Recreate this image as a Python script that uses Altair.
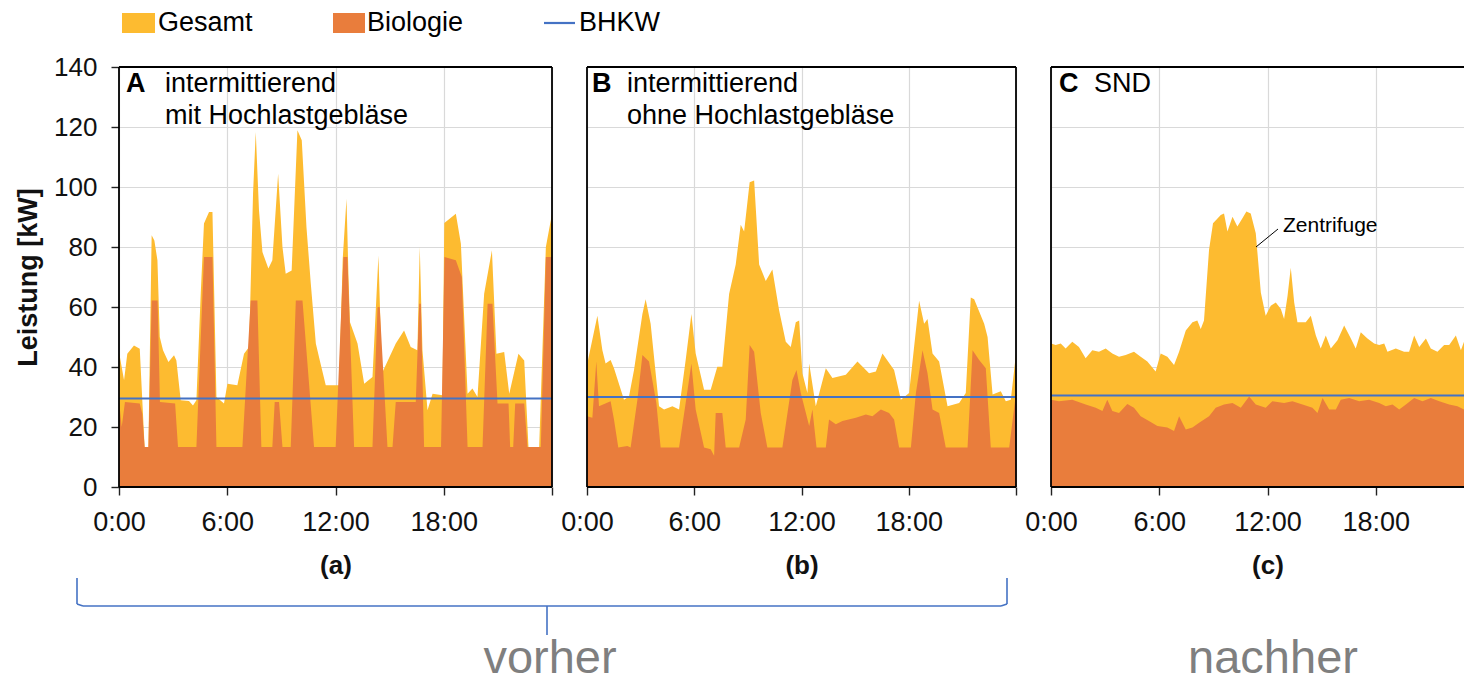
import altair as alt
import pandas as pd

# ---------------- data ----------------
HOUR_TICKS = [0, 6, 12, 18, 24]
KW_TICKS = [0, 20, 40, 60, 80, 100, 120, 140]
LEGEND_LABELS = ["Gesamt", "Biologie", "BHKW"]
PANEL_LETTERS = ["A", "B", "C"]
PANEL_TEXTS = ["intermittierend\nmit Hochlastgebläse", "intermittierend\nohne Hochlastgebläse", "SND"]
PANEL_CAPTIONS = ["(a)", "(b)", "(c)"]
GROUP_LABELS = ["vorher", "nachher"]
ANNOTATION = "Zentrifuge"
Y_TITLE = "Leistung [kW]"
BHKW = [29.5, 30.0, 30.5]

# Panel A (intermittierend mit Hochlastgebläse)
A_GES_T = [0.00, 0.28, 0.46, 0.83, 1.15, 1.42, 1.63, 1.81, 1.96, 2.13, 2.26, 2.44, 2.74, 3.05, 3.18,
           3.42, 3.88, 4.10, 4.29, 4.53, 4.71, 4.99, 5.18, 5.40, 5.82, 6.01, 6.56, 6.93, 7.21, 7.43,
           7.58, 7.76, 7.95, 8.28, 8.50, 8.82, 9.06, 9.24, 9.57, 9.89, 10.13, 10.39, 10.63, 10.91,
           11.13, 11.46, 12.20, 12.40, 12.61, 12.72, 12.80, 13.22, 13.59, 14.05, 14.38, 14.57, 15.34,
           15.80, 16.17, 16.54, 16.67, 16.82, 17.10, 17.38, 17.93, 18.03, 18.67, 18.95, 19.32, 19.59,
           19.87, 20.24, 20.67, 20.92, 21.35, 21.63, 22.14, 22.46, 22.70, 23.29, 23.66, 24.00]
A_GES_V = [45.0, 35.6, 44.4, 47.2, 46.1, 13.3, 13.3, 83.9, 82.2, 75.6, 50.0, 45.6, 41.7, 43.9, 42.2,
           28.9, 28.7, 27.2, 28.9, 64.4, 87.8, 91.7, 91.7, 30.0, 27.8, 34.4, 33.9, 44.4, 46.7, 97.8,
           118.3, 92.2, 78.3, 72.8, 75.6, 104.4, 80.0, 71.1, 72.2, 118.9, 115.6, 86.7, 67.8, 47.8,
           42.2, 33.9, 33.9, 76.0, 96.1, 70.0, 55.0, 47.8, 34.4, 36.7, 77.2, 37.8, 47.8,
           52.2, 46.7, 45.6, 80.0, 45.6, 25.6, 31.1, 30.6, 88.0, 91.1, 81.1, 31.1, 32.8,
           30.0, 64.4, 78.9, 44.4, 45.0, 31.1, 44.4, 42.2, 12.8, 13.3, 80.0, 91.1]
A_BIO_T = [0.00, 0.15, 0.33, 1.15, 1.29, 1.42, 1.63, 1.81, 2.14, 2.27, 3.11, 3.27, 4.29, 4.71, 5.18,
           5.40, 6.84, 7.30, 7.67, 7.89, 8.50, 8.63, 8.87, 9.06, 9.52, 9.80, 10.17, 10.81, 12.01,
           12.44, 12.66, 13.03, 14.05, 14.33, 14.45, 14.88, 15.16, 15.34, 16.45, 16.64, 16.73, 16.91,
           17.85, 18.04, 18.67, 19.00, 19.32, 20.15, 20.43, 20.70, 20.98, 21.59, 21.68, 21.85, 21.96,
           22.46, 22.64, 23.38, 23.66, 24.00]
A_BIO_V = [28.9, 20.0, 28.3, 27.8, 24.4, 13.3, 13.3, 62.2, 62.2, 28.3, 27.8, 13.3, 13.3, 76.7, 76.7,
           13.3, 13.3, 62.2, 62.2, 13.3, 13.3, 28.3, 28.3, 13.3, 13.3, 62.2, 62.2, 13.3, 13.3,
           76.7, 76.7, 13.3, 13.3, 60.0, 60.0, 13.3, 13.3, 28.3, 28.3, 61.1, 61.1, 13.3,
           13.3, 76.7, 75.6, 70.0, 13.3, 13.3, 61.1, 61.1, 27.8, 27.8, 13.3, 13.3, 27.8,
           27.8, 13.3, 13.3, 76.7, 76.7]

# Panel B (intermittierend ohne Hochlastgebläse)
B_GES_T = [0.00, 0.58, 0.86, 1.04, 1.32, 1.51, 2.07, 2.35, 2.63, 3.10, 3.28, 3.56, 4.03, 4.31, 4.78,
           5.15, 5.52, 5.84, 6.08, 6.55, 6.92, 7.29, 7.57, 7.95, 8.32, 8.60, 8.79, 9.10, 9.35, 9.63,
           10.00, 10.37, 10.75, 11.12, 11.40, 11.68, 11.87, 12.05, 12.33, 12.43, 12.80, 13.36, 13.73,
           14.48, 15.13, 15.78, 16.16, 16.53, 17.18, 17.56, 18.02, 18.58, 18.86, 19.05, 19.33, 19.70,
           20.17, 20.82, 21.19, 21.47, 21.66, 22.22, 22.41, 22.69, 23.15, 23.43, 23.71, 24.00]
B_GES_V = [40.7, 57.1, 45.6, 41.2, 42.3, 39.6, 29.1, 30.2, 39.0, 57.7, 62.6, 54.4, 26.9, 25.8, 26.9,
           25.8, 42.3, 57.7, 44.5, 32.4, 32.4, 40.1, 40.1, 64.3, 74.2, 87.4, 85.2, 101.6, 102.2, 74.2,
           68.7, 72.5, 58.8, 48.4, 46.7, 54.9, 55.5, 37.9, 31.3, 41.2, 26.9, 39.6, 36.3,
           37.4, 41.8, 37.9, 38.5, 44.5, 39.0, 29.1, 31.3, 62.1, 54.4, 56.0, 44.5, 41.8,
           26.9, 28.0, 31.3, 63.2, 62.6, 54.4, 50.0, 30.8, 31.9, 28.6, 29.1, 44.5]
B_BIO_T = [0.00, 0.30, 0.52, 0.67, 1.32, 1.51, 1.75, 2.26, 2.44, 2.82, 3.10, 3.47, 3.88, 4.12, 5.15,
           5.52, 5.84, 6.08, 6.55, 6.92, 7.11, 7.20, 7.57, 7.76, 8.51, 8.88, 9.10, 9.35, 9.72, 10.09,
           10.93, 11.49, 11.72, 11.96, 12.43, 12.61, 12.84, 13.36, 13.54, 13.92, 14.29, 15.04, 15.60,
           15.97, 16.44, 16.90, 17.18, 17.46, 18.12, 18.40, 18.77, 19.05, 19.33, 19.70, 20.07, 21.29,
           21.57, 21.94, 22.31, 22.59, 23.62, 24.00]
B_BIO_V = [23.6, 23.1, 41.8, 26.9, 28.6, 22.5, 13.2, 13.7, 13.2, 29.1, 44.0, 41.8, 28.0, 13.2, 13.2,
           28.0, 41.2, 25.8, 13.2, 12.6, 10.4, 24.7, 24.7, 13.2, 13.2, 22.5, 47.3, 45.1, 24.7, 13.2,
           13.2, 35.7, 39.0, 31.3, 20.3, 25.8, 13.2, 13.2, 22.5, 20.9, 22.0, 23.1, 24.2,
           23.6, 25.8, 24.7, 22.5, 13.2, 13.2, 31.3, 45.6, 37.9, 25.8, 24.7, 13.2, 13.2,
           45.6, 42.3, 39.6, 13.2, 13.2, 31.3]

# Panel C (SND)
C_GES_T = [0.00, 0.26, 0.54, 0.81, 1.18, 1.55, 1.92, 2.29, 2.66, 3.03, 3.40, 3.77, 4.14, 4.60, 4.97,
           5.34, 5.80, 6.08, 6.45, 6.82, 7.10, 7.47, 7.84, 8.11, 8.30, 8.48, 8.76, 8.98, 9.41, 9.59,
           9.78, 10.06, 10.33, 10.61, 10.83, 11.07, 11.35, 11.63, 11.90, 12.18, 12.46, 12.74, 12.92,
           13.11, 13.29, 13.48, 13.66, 14.12, 14.40, 14.68, 14.95, 15.23, 15.51, 15.88, 16.25, 16.62,
           16.89, 17.17, 17.54, 17.91, 18.19, 18.47, 18.65, 19.11, 19.57, 19.85, 20.13, 20.41, 20.78,
           21.05, 21.42, 21.79, 22.07, 22.44, 22.72, 23.09, 23.35]
C_GES_V = [47.8, 47.3, 47.8, 46.2, 48.4, 46.7, 42.9, 45.6, 45.1, 46.2, 44.5, 43.4, 44.0, 45.1, 43.4,
           41.8, 38.5, 44.5, 43.4, 40.7, 45.1, 52.2, 54.9, 55.5, 52.7, 55.5, 79.1, 87.9, 90.7, 91.2,
           85.2, 90.1, 86.8, 89.6, 91.8, 91.2, 84.6, 64.8, 57.1, 60.4, 61.5, 59.3, 56.0,
           63.7, 73.1, 61.5, 54.9, 54.9, 57.1, 50.5, 46.2, 50.5, 46.2, 48.9, 53.8, 49.5,
           46.2, 51.6, 49.5, 47.8, 47.3, 47.8, 45.1, 46.2, 45.1, 45.1, 50.5, 46.7, 49.5,
           46.2, 45.1, 47.3, 47.3, 50.5, 45.6, 51.6, 47.8]
C_BIO_T = [0.00, 0.44, 1.18, 1.92, 2.48, 2.85, 3.12, 3.40, 3.77, 4.23, 4.60, 4.97, 5.43, 5.90, 6.45,
           6.82, 7.10, 7.47, 7.84, 8.21, 8.76, 9.13, 9.59, 10.06, 10.52, 10.98, 11.35, 11.90, 12.27,
           12.92, 13.38, 13.94, 14.49, 14.77, 15.05, 15.42, 15.79, 16.06, 16.53, 17.08, 17.63, 18.19,
           18.56, 18.93, 19.30, 19.67, 20.13, 20.59, 21.05, 21.52, 22.07, 22.53, 22.90, 23.09, 23.35]
C_BIO_V = [29.1, 28.6, 29.1, 27.5, 26.4, 25.3, 29.1, 25.3, 24.7, 27.7, 26.4, 23.6, 22.0, 20.3, 19.8,
           18.7, 23.6, 19.2, 19.8, 21.4, 23.6, 26.4, 27.5, 28.0, 26.4, 30.2, 27.5, 26.4, 28.6,
           28.0, 28.6, 27.5, 26.4, 24.7, 29.7, 25.8, 25.8, 29.1, 29.7, 28.6, 29.1, 28.0,
           26.9, 27.5, 25.8, 27.5, 29.7, 28.6, 29.7, 28.6, 27.5, 26.9, 25.8, 29.7, 28.6]

# ---------------- styling ----------------
YELLOW = "#FDBB30"
ORANGE = "#E97D3C"
BLUE = "#4472C4"
GRID = "#d9d9d9"
FONT = "Liberation Sans"
H = 420
WIDTHS = [433, 429, 433]


def text_mark(s, x, y, size, weight="normal", color="#000000", align="left",
              baseline="middle", line_height=None):
    kw = dict(fontSize=size, fontWeight=weight, color=color, align=align,
              baseline=baseline, font=FONT)
    if line_height:
        kw["lineBreak"] = "\n"
        kw["lineHeight"] = line_height
    return alt.Chart(pd.DataFrame({"s": [s]})).mark_text(**kw).encode(
        x=alt.value(x), y=alt.value(y), text="s:N")


def rule(x, y, x2=None, y2=None, color="#000000", width=1.8):
    enc = dict(x=alt.value(x), y=alt.value(y))
    if x2 is not None:
        enc["x2"] = alt.value(x2)
    if y2 is not None:
        enc["y2"] = alt.value(y2)
    return alt.Chart().mark_rule(color=color, strokeWidth=width).encode(**enc)


def panel(i, gt, gv, bt, bv, show_y):
    w = WIDTHS[i]
    x_axis = alt.Axis(values=HOUR_TICKS,
                      labelExpr="datum.value == 24 ? '' : datum.value + ':00'",
                      title=PANEL_CAPTIONS[i], grid=True, gridColor=GRID, gridWidth=1.2,
                      domain=False, ticks=True, tickSize=8, tickColor="#222222", tickWidth=1.4,
                      labelFontSize=27, labelColor="#111111", labelFlush=False,
                      labelOverlap=False, labelPadding=14, labelFont=FONT,
                      titleFont=FONT, titleFontSize=26, titleFontWeight="bold",
                      titleColor="#111111", titlePadding=17)
    if show_y:
        y_axis = alt.Axis(values=KW_TICKS, title=Y_TITLE, grid=True, gridColor=GRID,
                          gridWidth=1.2, domain=False, tickSize=8, tickColor="#222222",
                          tickWidth=1.4, labelFontSize=26, labelColor="#111111",
                          labelFlush=False, labelPadding=14, labelFont=FONT,
                          titleFont=FONT, titleFontSize=27, titleFontWeight="bold",
                          titleColor="#111111", titlePadding=11)
    else:
        y_axis = alt.Axis(values=KW_TICKS, title=None, grid=True, gridColor=GRID,
                          gridWidth=1.2, domain=False, ticks=False, labels=False)
    xs = alt.Scale(domain=[0, 24], nice=False, zero=False)
    ys = alt.Scale(domain=[0, 140], nice=False)

    ges = alt.Chart(pd.DataFrame({"t": gt, "v": gv})).mark_area(
        color=YELLOW, clip=True, opacity=1).encode(
        x=alt.X("t:Q", scale=xs, axis=x_axis), y=alt.Y("v:Q", scale=ys, axis=y_axis))
    bio = alt.Chart(pd.DataFrame({"t": bt, "v": bv})).mark_area(
        color=ORANGE, clip=True, opacity=1).encode(
        x=alt.X("t:Q", scale=xs, axis=x_axis), y=alt.Y("v:Q", scale=ys, axis=y_axis))
    bhkw = alt.Chart(pd.DataFrame({"v": [BHKW[i]]})).mark_rule(
        color=BLUE, strokeWidth=2.2).encode(y=alt.Y("v:Q", scale=ys, axis=y_axis))

    layers = [ges, bio, bhkw,
              rule(0, 0, x2=w), rule(0, H, x2=w), rule(0, 0, y2=H), rule(w, 0, y2=H)]

    # panel heading
    letter_x = [7, 5, 8][i]
    text_x = [46, 40, 43][i]
    layers.append(text_mark(PANEL_LETTERS[i], letter_x, 17, 27, weight="bold"))
    layers.append(text_mark(PANEL_TEXTS[i], text_x, 17, 27, line_height=32))
    return layers


la = panel(0, A_GES_T, A_GES_V, A_BIO_T, A_BIO_V, True)
lb = panel(1, B_GES_T, B_GES_V, B_BIO_T, B_BIO_V, False)
lc = panel(2, C_GES_T, C_GES_V, C_BIO_T, C_BIO_V, False)

# legend (drawn above panel A)
def swatch(x0, x1, color):
    return alt.Chart().mark_rect(color=color).encode(
        x=alt.value(x0), x2=alt.value(x1), y=alt.value(-54), y2=alt.value(-34))

la += [swatch(3, 36, YELLOW), text_mark(LEGEND_LABELS[0], 39, -44, 27),
       swatch(214, 246, ORANGE), text_mark(LEGEND_LABELS[1], 248, -44, 27),
       rule(425, -44, x2=456, color=BLUE, width=2.2), text_mark(LEGEND_LABELS[2], 460, -44, 27)]

# brace + group labels
la += [rule(-42, 511, y2=537, color=BLUE, width=1.6),
       rule(-42, 537, x2=-36, y2=539, color=BLUE, width=1.6),
       rule(-36, 539, x2=882, color=BLUE, width=1.6),
       rule(888, 511, y2=537, color=BLUE, width=1.6),
       rule(888, 537, x2=882, y2=539, color=BLUE, width=1.6),
       rule(428, 539, y2=568, color=BLUE, width=1.6),
       text_mark(GROUP_LABELS[0], 431, 606, 47, color="#7f7f7f", align="center",
                 baseline="alphabetic")]
lc += [text_mark(GROUP_LABELS[1], 222, 606, 47, color="#7f7f7f", align="center",
                 baseline="alphabetic"),
       rule(205, 180, x2=227, y2=162, color="#000000", width=1),
       text_mark(ANNOTATION, 232, 159, 21)]

pa = alt.layer(*la).properties(width=WIDTHS[0], height=H)
pb = alt.layer(*lb).properties(width=WIDTHS[1], height=H)
pc = alt.layer(*lc).properties(width=WIDTHS[2], height=H)

chart = alt.hconcat(pa, pb, pc, spacing=35, bounds="flush").properties(
    padding={"left": 6, "top": 0, "right": -22, "bottom": 0}
).configure_view(stroke=None).configure(font=FONT)

chart.save("out.html", embed_options={"renderer": "svg", "actions": False})
